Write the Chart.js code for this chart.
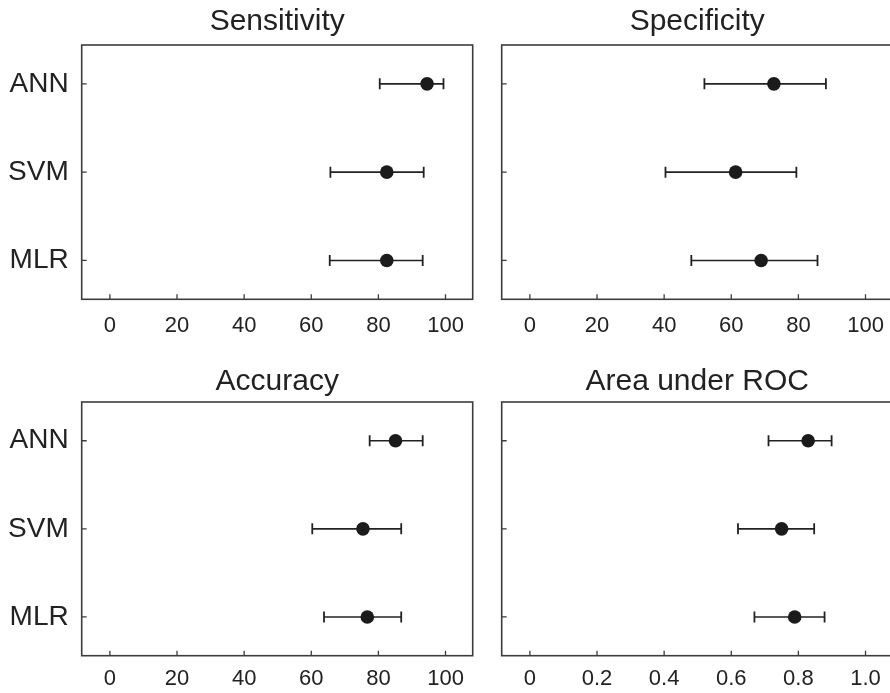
<!DOCTYPE html>
<html>
<head>
<meta charset="utf-8">
<title>Model performance</title>
<script src="https://cdn.jsdelivr.net/npm/chart.js@4.4.1/dist/chart.umd.min.js"></script>
<style>
  html, body { margin: 0; padding: 0; background: #fff; overflow: hidden; }
  #page { position: relative; width: 890px; height: 693px; overflow: hidden; }
  canvas { position: absolute; }
</style>
</head>
<body>
<div id="page">
  <canvas id="sens" width="480" height="345" style="left:0;top:0;width:480px;height:345px"></canvas>
  <canvas id="spec" width="480" height="345" style="left:420px;top:0;width:480px;height:345px"></canvas>
  <canvas id="acc" width="480" height="336" style="left:0;top:357px;width:480px;height:336px"></canvas>
  <canvas id="auc" width="480" height="336" style="left:420px;top:357px;width:480px;height:336px"></canvas>
</div>
<script>
// categories, top to bottom
const models = ['ANN', 'SVM', 'MLR'];

// Sensitivity (%)
const sensMean = [94.5, 82.5, 82.5];
const sensLow = [80.4, 65.7, 65.5];
const sensHigh = [99.4, 93.5, 93.2];

// Specificity (%)
const specMean = [72.7, 61.3, 68.9];
const specLow = [52.0, 40.4, 48.1];
const specHigh = [88.2, 79.4, 85.7];

// Accuracy (%)
const accMean = [85.1, 75.4, 76.7];
const accLow = [77.4, 60.3, 63.8];
const accHigh = [93.2, 86.8, 86.8];

// Area under ROC
const aucMean = [0.829, 0.750, 0.789];
const aucLow = [0.711, 0.620, 0.669];
const aucHigh = [0.899, 0.847, 0.878];

// tick values / labels
const pctTicks = [0, 20, 40, 60, 80, 100];
const pctTickLabels = ['0', '20', '40', '60', '80', '100'];
const aucTicks = [0, 0.2, 0.4, 0.6, 0.8, 1.0];
const aucTickLabels = ['0', '0.2', '0.4', '0.6', '0.8', '1.0'];

Chart.defaults.font.family = "'Liberation Sans', Arial, Helvetica, sans-serif";
Chart.defaults.color = '#222';

// box frame plus short inward tick marks
const framePlugin = {
  id: 'frame',
  afterDatasetsDraw(chart) {
    const { ctx, chartArea: a, scales } = chart;
    ctx.save();
    ctx.strokeStyle = '#3c3c3c';
    ctx.lineWidth = 1.6;
    ctx.strokeRect(a.left, a.top, a.right - a.left, a.bottom - a.top);
    ctx.lineWidth = 1.3;
    ctx.beginPath();
    scales.x.ticks.forEach(t => {
      const px = scales.x.getPixelForValue(t.value);
      ctx.moveTo(px, a.bottom);
      ctx.lineTo(px, a.bottom - 5);
    });
    scales.y.ticks.forEach(t => {
      const py = scales.y.getPixelForValue(t.value);
      ctx.moveTo(a.left, py);
      ctx.lineTo(a.left + 5, py);
    });
    ctx.stroke();
    ctx.restore();
  }
};

function makePanel(id, opts) {
  const datasets = [{
    label: 'mean',
    data: opts.mean.map((v, i) => ({ x: v, y: i })),
    pointRadius: 6.8,
    pointBackgroundColor: '#1b1b1b',
    pointBorderWidth: 0,
    showLine: false
  }];
  opts.mean.forEach((v, i) => {
    datasets.push({
      label: models[i] + ' range',
      data: [{ x: opts.low[i], y: i }, { x: opts.high[i], y: i }],
      showLine: true,
      borderColor: '#222',
      borderWidth: 1.6,
      pointStyle: 'line',
      rotation: 90,
      pointRadius: 5.5,
      pointBorderColor: '#222',
      pointBorderWidth: 1.8
    });
  });

  return new Chart(document.getElementById(id), {
    type: 'scatter',
    data: { datasets },
    options: {
      responsive: false,
      devicePixelRatio: 1,
      animation: false,
      events: [],
      layout: { padding: { left: 0, right: opts.padRight, top: 0, bottom: 0 } },
      plugins: {
        legend: { display: false },
        tooltip: { enabled: false },
        title: {
          display: true,
          text: opts.title,
          fullSize: false,
          color: '#222',
          font: { size: 30, weight: 'normal', lineHeight: 1.2 },
          padding: opts.titlePad
        }
      },
      scales: {
        x: {
          type: 'linear',
          min: opts.xMin,
          max: opts.xMax,
          grid: { display: false, drawTicks: false },
          border: { display: false },
          afterBuildTicks: s => { s.ticks = opts.xTicks.map(v => ({ value: v })); },
          afterFit: s => { s.height = opts.xAxisHeight; },
          ticks: {
            padding: opts.xTickPad,
            maxRotation: 0,
            autoSkip: false,
            font: { size: 22 },
            color: '#222',
            callback: v => opts.xLabels[opts.xTicks.indexOf(v)]
          }
        },
        y: {
          type: 'linear',
          reverse: true,
          min: -0.44,
          max: 2.44,
          grid: { display: false, drawTicks: false },
          border: { display: false },
          afterBuildTicks: s => { s.ticks = models.map((m, i) => ({ value: i })); },
          afterFit: s => { s.width = 81.7; },
          ticks: {
            display: opts.showCats,
            padding: 13,
            font: { size: 28 },
            color: '#222',
            callback: v => models[v]
          }
        }
      }
    },
    plugins: [framePlugin]
  });
}

makePanel('sens', {
  title: 'Sensitivity', mean: sensMean, low: sensLow, high: sensHigh,
  xMin: -8.4, xMax: 108.1, xTicks: pctTicks, xLabels: pctTickLabels,
  showCats: true, padRight: 6.7, titlePad: { top: 4, bottom: 5 },
  xAxisHeight: 45.7, xTickPad: 13
});
makePanel('spec', {
  title: 'Specificity', mean: specMean, low: specLow, high: specHigh,
  xMin: -8.4, xMax: 108.1, xTicks: pctTicks, xLabels: pctTickLabels,
  showCats: false, padRight: 5.7, titlePad: { top: 4, bottom: 5 },
  xAxisHeight: 45.7, xTickPad: 13
});
makePanel('acc', {
  title: 'Accuracy', mean: accMean, low: accLow, high: accHigh,
  xMin: -8.4, xMax: 108.1, xTicks: pctTicks, xLabels: pctTickLabels,
  showCats: true, padRight: 6.7, titlePad: { top: 6.5, bottom: 2.5 },
  xAxisHeight: 37.3, xTickPad: 10
});
makePanel('auc', {
  title: 'Area under ROC', mean: aucMean, low: aucLow, high: aucHigh,
  xMin: -0.084, xMax: 1.081, xTicks: aucTicks, xLabels: aucTickLabels,
  showCats: false, padRight: 5.7, titlePad: { top: 6.5, bottom: 2.5 },
  xAxisHeight: 37.3, xTickPad: 10
});
</script>
</body>
</html>
